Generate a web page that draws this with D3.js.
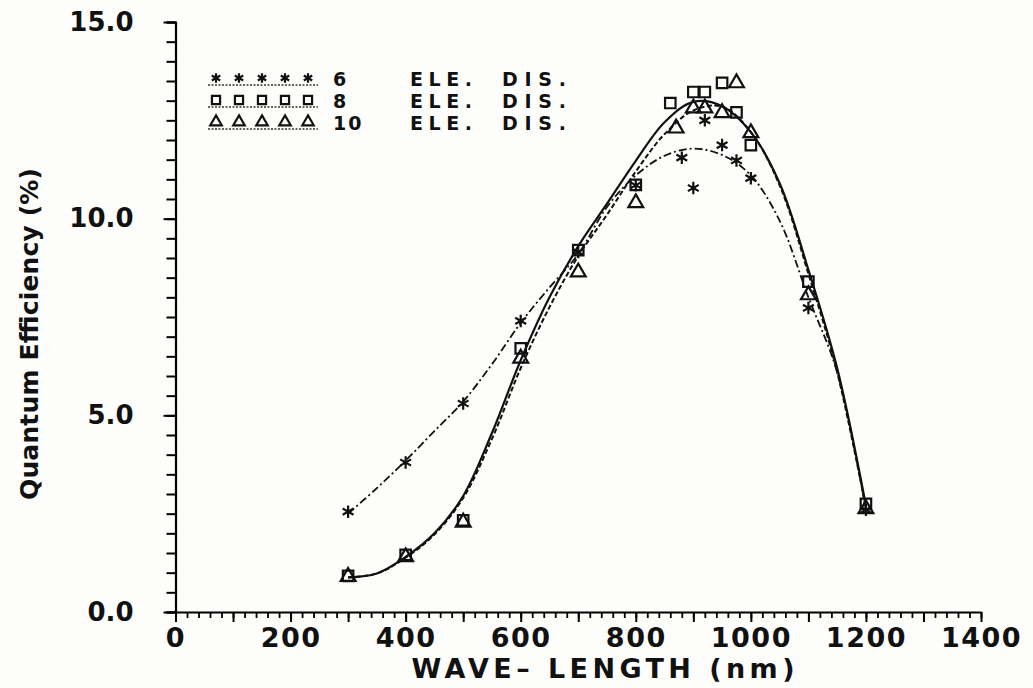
<!DOCTYPE html>
<html>
<head>
<meta charset="utf-8">
<script src="https://cdn.jsdelivr.net/npm/d3@7"></script>
<style>
  html, body { margin: 0; padding: 0; background: #fdfdfb; }
  svg { display: block; }
  text { font-family: "DejaVu Sans", sans-serif; fill: #111; }
</style>
</head>
<body>
<script>
// measured points (wavelength nm, quantum efficiency %)
const ele6Points = [[300, 2.55], [400, 3.8], [500, 5.3], [600, 7.4], [700, 9.15], [800, 10.85],
  [880, 11.55], [900, 10.78], [920, 12.5], [950, 11.87], [975, 11.48], [1000, 11.03], [1100, 7.73], [1200, 2.6]];
const ele8Points = [[300, 0.92], [400, 1.45], [500, 2.33], [600, 6.7], [700, 9.2], [800, 10.86],
  [860, 12.94], [900, 13.22], [920, 13.22], [950, 13.45], [975, 12.7], [1000, 11.87], [1100, 8.4], [1200, 2.75]];
const ele10Points = [[300, 0.9], [400, 1.4], [500, 2.28], [600, 6.45], [700, 8.64], [800, 10.4],
  [870, 12.3], [900, 12.81], [920, 12.81], [950, 12.69], [975, 13.45], [1000, 12.18], [1100, 8.06], [1200, 2.62]];

// fitted curves
const curveWaves = [300, 350, 400, 450, 500, 550, 600, 650, 700, 750, 800, 850, 900, 950, 1000, 1050, 1100, 1150, 1200];
const ele6Curve  = [2.5, 3.15, 3.85, 4.6, 5.35, 6.3, 7.35, 8.25, 9.1, 10.3, 11.1, 11.6, 11.78, 11.62, 11.1, 9.95, 8.0, 6.1, 2.6];
const ele8Curve  = [0.88, 0.98, 1.4, 2.0, 2.95, 4.55, 6.4, 8.0, 9.3, 10.38, 11.47, 12.45, 12.97, 12.86, 12.2, 10.9, 8.7, 6.2, 2.7];
const ele10Curve = [0.88, 0.98, 1.38, 1.97, 2.9, 4.4, 6.2, 7.75, 9.05, 10.1, 11.2, 12.15, 12.75, 12.85, 12.2, 10.85, 8.6, 6.1, 2.65];

const seriesNames = ["6", "8", "10"];
const xTickLabels = [0, 200, 400, 600, 800, 1000, 1200, 1400];
const yTickLabels = [0, 5, 10, 15];

const width = 1033, height = 688;

const svg = d3.select("body").append("svg")
    .attr("width", width)
    .attr("height", height);

const x = d3.scaleLinear().domain([0, 1400]).range([175.5, 981]);
const y = d3.scaleLinear().domain([0, 15]).range([612, 22]);

const starType = d3.symbolAsterisk || d3.symbolCross;

const series = [
  { name: seriesNames[0], points: ele6Points, curve: ele6Curve, symbol: starType, size: 110, dash: "8,3,2,3", width: 1.8 },
  { name: seriesNames[1], points: ele8Points, curve: ele8Curve, symbol: d3.symbolSquare, size: 110, dash: null, width: 2.2 },
  { name: seriesNames[2], points: ele10Points, curve: ele10Curve, symbol: d3.symbolTriangle, size: 95, dash: "5,2.5", width: 2 }
];

// y axis: minor ticks every 0.5, labelled ticks every 5
svg.append("g")
    .attr("transform", `translate(${x(0)},0)`)
    .call(d3.axisLeft(y).tickValues(d3.range(0, 15.01, 0.5)).tickSize(9).tickFormat(""))
    .call(g => g.select(".domain").attr("stroke-width", 2.2))
    .call(g => g.selectAll(".tick line").attr("stroke-width", 2));

svg.append("g")
    .attr("transform", `translate(${x(0)},0)`)
    .call(d3.axisLeft(y).tickValues(yTickLabels).tickSize(12).tickPadding(30).tickFormat(d3.format(".1f")))
    .call(g => g.select(".domain").remove())
    .call(g => g.selectAll(".tick line").attr("stroke-width", 2))
    .call(g => g.selectAll("text")
        .attr("font-family", "DejaVu Sans")
        .attr("font-weight", "bold")
        .attr("font-size", 26)
        .attr("fill", "#111"));

// x axis: ticks every 20 nm, longer ones every 100, labels every 200
svg.append("g")
    .attr("transform", `translate(0,${y(0)})`)
    .call(d3.axisBottom(x).tickValues(d3.range(0, 1401, 20)).tickSize(6).tickSizeOuter(0).tickFormat(""))
    .call(g => g.select(".domain").attr("stroke-width", 2.2))
    .call(g => g.selectAll(".tick line").attr("stroke-width", 1.8));

svg.append("g")
    .attr("transform", `translate(0,${y(0)})`)
    .call(d3.axisBottom(x).tickValues(d3.range(0, 1401, 100)).tickSize(10).tickPadding(6)
        .tickFormat(d => xTickLabels.includes(d) ? d : ""))
    .call(g => g.select(".domain").remove())
    .call(g => g.selectAll(".tick line").attr("stroke-width", 2))
    .call(g => g.selectAll("text")
        .attr("font-family", "DejaVu Sans")
        .attr("font-weight", "bold")
        .attr("font-size", 27)
        .attr("letter-spacing", 1.5)
        .attr("fill", "#111"));

// axis titles
svg.append("text")
    .attr("x", 603)
    .attr("y", 678)
    .attr("text-anchor", "middle")
    .attr("font-size", 27)
    .attr("font-weight", "bold")
    .attr("textLength", 383)
    .attr("lengthAdjust", "spacing")
    .text("WAVE\u2013 LENGTH (nm)");

svg.append("text")
    .attr("transform", "translate(38,334) rotate(-90)")
    .attr("text-anchor", "middle")
    .attr("font-size", 25)
    .attr("font-weight", "bold")
    .attr("textLength", 332)
    .attr("lengthAdjust", "spacing")
    .text("Quantum Efficiency (%)");

// fitted curves
const line = d3.line()
    .x(d => x(d[0]))
    .y(d => y(d[1]))
    .curve(d3.curveCatmullRom.alpha(0.5));

svg.append("g")
    .selectAll("path")
    .data(series)
    .join("path")
    .attr("d", s => line(curveWaves.map((w, i) => [w, s.curve[i]])))
    .attr("fill", "none")
    .attr("stroke", "#111")
    .attr("stroke-width", s => s.width)
    .attr("stroke-dasharray", s => s.dash);

// data markers
const symbol = d3.symbol();
series.forEach(s => {
  svg.append("g")
      .selectAll("path")
      .data(s.points)
      .join("path")
      .attr("transform", d => `translate(${x(d[0])},${y(d[1])})`)
      .attr("d", symbol.type(s.symbol).size(s.size)())
      .attr("fill", "none")
      .attr("stroke", "#111")
      .attr("stroke-width", 2.2);
});

// legend
const legendRows = [79, 101, 123];
const legend = svg.append("g");
series.forEach((s, i) => {
  const row = legend.append("g").attr("transform", `translate(0,${legendRows[i]})`);
  row.selectAll("path.mark")
      .data(d3.range(5))
      .join("path")
      .attr("class", "mark")
      .attr("transform", k => `translate(${216 + k * 23},-1)`)
      .attr("d", d3.symbol().type(s.symbol).size(s.size * 0.6)())
      .attr("fill", "none")
      .attr("stroke", "#111")
      .attr("stroke-width", 2.2);
  row.append("line")
      .attr("x1", 208).attr("x2", 318)
      .attr("y1", 6).attr("y2", 6)
      .attr("stroke", "#333")
      .attr("stroke-width", 1.3)
      .attr("stroke-dasharray", "2,1.5");
  const label = row.append("g")
      .attr("font-size", 19)
      .attr("font-weight", "bold");
  label.append("text").attr("x", 333).attr("y", 7).attr("letter-spacing", 2).text(s.name);
  label.append("text").attr("x", 410).attr("y", 7).attr("textLength", 62).attr("lengthAdjust", "spacing").text("ELE.");
  label.append("text").attr("x", 502).attr("y", 7).attr("textLength", 64).attr("lengthAdjust", "spacing").text("DIS.");
});
</script>
</body>
</html>
